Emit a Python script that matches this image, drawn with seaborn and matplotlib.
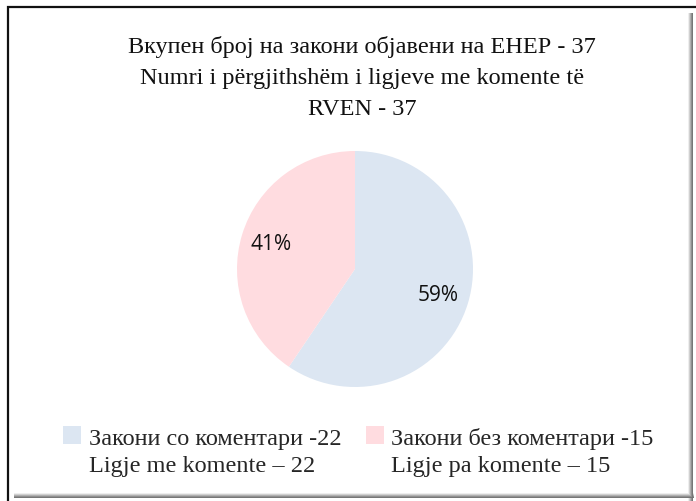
import seaborn as sns
import matplotlib.pyplot as plt
from matplotlib.patches import Rectangle, Patch

sns.set_theme(style="white")

title_lines = ["Вкупен број на закони објавени на ЕНЕР - 37",
               "Numri i përgjithshëm i ligjeve me komente të",
               "RVEN - 37"]
labels_mk = ["Закони со коментари -22", "Закони без коментари -15"]
labels_sq = ["Ligje me komente – 22", "Ligje pa komente – 15"]
counts = [22, 15]
colors = ["#DCE6F2", "#FFDCE0"]

W, H = 696, 502
fig = plt.figure(figsize=(W / 100, H / 100), dpi=100)

# frame with shadow, like the office chart border
def px(x0, y0, x1, y1, **kw):
    fig.patches.append(Rectangle((x0 / W, 1 - y1 / H), (x1 - x0) / W, (y1 - y0) / H,
                                 transform=fig.transFigure, figure=fig, **kw))

px(8, 8, 720, 530, facecolor="none", edgecolor="#111111", lw=1.6)
for i, g in enumerate(["#eeeeee", "#d0d0d0", "#b0b0b0", "#909090", "#777777"]):
    px(688 + i, 14, 689 + i, 502, facecolor=g, edgecolor="none")
    px(14, 494 + i, 694, 495 + i, facecolor=g, edgecolor="none")

fig.text(0.52, 1 - 36 / H, "\n".join(title_lines), ha="center", va="top",
         fontsize=17.5, family="Liberation Serif", linespacing=1.62, color="#111111")

ax = fig.add_axes([(355 - 118) / W, (H - 270 - 118) / H, 236 / W, 236 / H])
wedges, _, autotexts = ax.pie(counts, colors=colors, startangle=90, counterclock=False,
                              autopct="%1.0f%%", pctdistance=0.74, radius=1,
                              wedgeprops=dict(edgecolor="none"),
                              textprops=dict(family="Open Sans", fontsize=15, color="#111111"))
ax.set_xlim(-1, 1)
ax.set_ylim(-1, 1)
ax.set_aspect("equal")
ax.axis("off")

blank = Patch(facecolor="none", edgecolor="none")
handles = [wedges[0], blank, wedges[1], blank]
labs = [labels_mk[0], labels_sq[0], labels_mk[1], labels_sq[1]]
fig.legend(handles, labs, ncol=2, loc="center", bbox_to_anchor=(0.515, 1 - 452 / H),
           frameon=False, prop=dict(family="Liberation Serif", size=17.5),
           handlelength=0.75, handleheight=0.75, handletextpad=0.3,
           columnspacing=1.0, labelspacing=0.2)

fig.savefig("out.png", dpi=100)
